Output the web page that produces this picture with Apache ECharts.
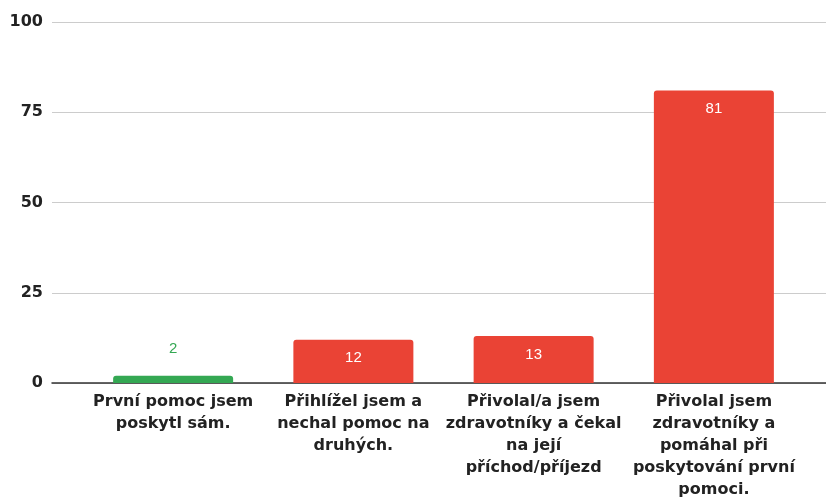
<!DOCTYPE html>
<html>
<head>
<meta charset="utf-8">
<script src="https://cdn.jsdelivr.net/npm/echarts@6/dist/echarts.min.js"></script>
<style>
  html, body { margin: 0; padding: 0; background: #ffffff; }
  #chart { width: 826px; height: 498px; }
</style>
</head>
<body>
<div id="chart"></div>
<script>
// Answer options (x-axis categories), broken into display lines
const categories = [
  'První pomoc jsem\nposkytl sám.',
  'Přihlížel jsem a\nnechal pomoc na\ndruhých.',
  'Přivolal/a jsem\nzdravotníky a čekal\nna její\npříchod/příjezd',
  'Přivolal jsem\nzdravotníky a\npomáhal při\nposkytování první\npomoci.'
];
// Number of responses per option
const counts = [2, 12, 13, 81];
// Bar colours per option
const barColors = ['#34a853', '#ea4335', '#ea4335', '#ea4335'];
// Value axis range
const yMin = 0, yMax = 100, yStep = 25;

const chart = echarts.init(document.getElementById('chart'), null, { renderer: 'canvas' });

const TOP = 22, BOTTOM = 115;

const option = {
  animation: false,
  grid: [
    { left: 83, right: 22, top: TOP, bottom: BOTTOM, containLabel: false, outerBoundsMode: 'none' },   // bars
    { left: 52, right: 0, top: TOP, bottom: BOTTOM, containLabel: false, outerBoundsMode: 'none' }     // gridlines, value labels, baseline
  ],
  xAxis: [
    {
      gridIndex: 0,
      type: 'category',
      data: categories,
      axisLine: { show: false },
      axisTick: { show: false },
      axisLabel: {
        interval: 0,
        margin: 8,
        fontFamily: 'DejaVu Sans',
        fontWeight: 'bold',
        fontSize: 16,
        lineHeight: 22,
        color: '#222222',
        align: 'center'
      }
    },
    {
      gridIndex: 1,
      type: 'value',
      min: 0, max: 1,
      axisLine: { show: true, onZero: false, lineStyle: { color: '#333333', width: 1.5 } },
      axisTick: { show: false },
      axisLabel: { show: false },
      splitLine: { show: false }
    }
  ],
  yAxis: [
    {
      gridIndex: 0,
      type: 'value',
      min: yMin, max: yMax, interval: yStep,
      show: false
    },
    {
      gridIndex: 1,
      type: 'value',
      min: yMin, max: yMax, interval: yStep,
      axisLine: { show: false },
      axisTick: { show: false },
      axisLabel: {
        margin: 9,
        fontFamily: 'DejaVu Sans',
        fontWeight: 'bold',
        fontSize: 16,
        color: '#222222'
      },
      splitLine: { show: true, lineStyle: { color: '#cccccc', width: 1 } }
    }
  ],
  series: [
    {
      type: 'bar',
      xAxisIndex: 0,
      yAxisIndex: 0,
      barWidth: 120,
      data: counts.map((v, i) => ({
        value: v,
        itemStyle: { color: barColors[i], borderRadius: [3, 3, 0, 0] },
        label: v < 5
          ? { position: 'top', distance: 19, color: barColors[i] }
          : { position: 'insideTop', distance: 11, color: '#ffffff' }
      })),
      label: {
        show: true,
        fontFamily: 'Liberation Sans',
        fontSize: 15
      }
    }
  ]
};

chart.setOption(option);
</script>
</body>
</html>
